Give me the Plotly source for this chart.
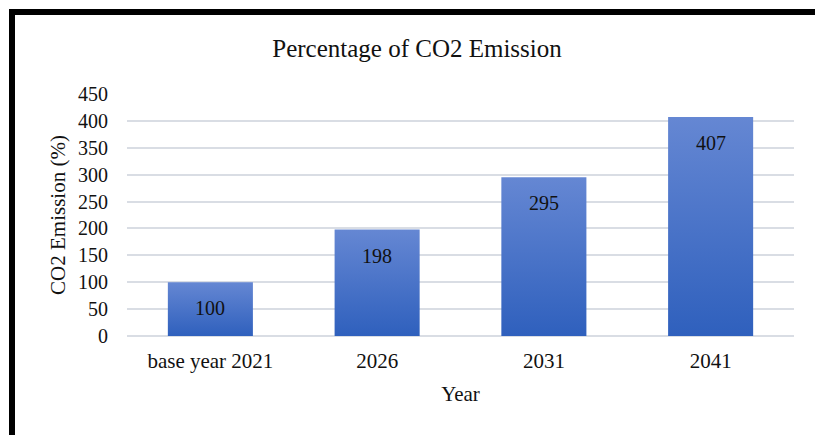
import plotly.graph_objects as go

categories = ["base year 2021", "2026", "2031", "2041"]
values = [100, 198, 295, 407]
y_ticks = [0, 50, 100, 150, 200, 250, 300, 350, 400, 450]

W, H = 815, 435
ML, MR, MT, MB = 127, 21, 94, 99
pw, ph = W - ML - MR, H - MT - MB
BAR_W = 0.51

def px_x(x):
    return (x - ML) / pw

def px_y(y):
    return (H - MB - y) / ph

font = "Liberation Serif, Times New Roman, serif"

fig = go.Figure()
for i, (c, v) in enumerate(zip(categories, values)):
    x0, x1 = i - BAR_W / 2, i + BAR_W / 2
    fig.add_trace(go.Scatter(
        x=[x0, x1, x1, x0, x0], y=[0, 0, v, v, 0],
        mode="lines", line=dict(width=0), fill="toself",
        fillgradient=dict(type="vertical",
                          colorscale=[[0, "#2f60bd"], [1, "#6587d3"]]),
        name=c, hoveron="fills", text=f"{c}: {v}", hoverinfo="text",
    ))

for i, v in enumerate(values):
    fig.add_annotation(x=i, y=v, text=str(v), showarrow=False, yshift=-26,
                       font=dict(family=font, size=20, color="#111111"))

fig.add_shape(type="rect", xref="paper", yref="paper",
              x0=px_x(12), x1=px_x(840), y0=px_y(460), y1=px_y(12),
              line=dict(color="black", width=6), layer="above")

fig.update_layout(
    width=W, height=H,
    margin=dict(l=ML, r=MR, t=MT, b=MB, pad=0),
    paper_bgcolor="white", plot_bgcolor="white",
    title=dict(text="Percentage of CO2 Emission", x=417 / W, xanchor="center",
               y=1 - 48 / H, yanchor="middle",
               font=dict(family=font, size=25, color="#111111")),
    font=dict(family=font, size=20, color="#111111"),
    showlegend=False,
    xaxis=dict(range=[-0.5, len(categories) - 0.5],
               tickvals=list(range(len(categories))), ticktext=categories,
               title=dict(text="Year", font=dict(family=font, size=21), standoff=14),
               tickfont=dict(family=font, size=21), showgrid=False, zeroline=False,
               showline=False, ticks="", ticklabelstandoff=10),
    yaxis=dict(title=dict(text="CO2 Emission (%)", font=dict(family=font, size=21), standoff=6),
               range=[0, 450], tickvals=y_ticks, tickfont=dict(family=font, size=20),
               showgrid=True, gridcolor="#d9dde4", gridwidth=1.5,
               zeroline=True, zerolinecolor="#d9dde4", zerolinewidth=1.5,
               showline=False, ticks="", ticklabelstandoff=18),
)

fig.write_html("out.html")
